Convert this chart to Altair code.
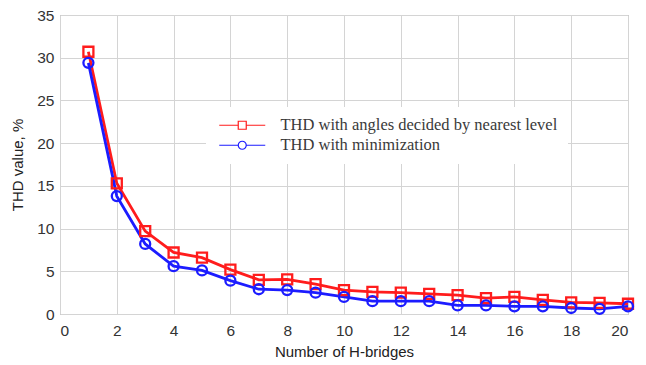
import altair as alt
import pandas as pd

bridges = list(range(1, 21))
thd_nearest = [30.7, 15.3, 9.7, 7.2, 6.6, 5.2, 4.0, 4.05, 3.5, 2.8,
               2.6, 2.5, 2.35, 2.2, 1.85, 2.0, 1.65, 1.35, 1.3, 1.2]
thd_min = [29.4, 13.8, 8.2, 5.6, 5.1, 3.9, 2.9, 2.8, 2.5, 2.0,
           1.5, 1.5, 1.5, 1.0, 1.0, 0.9, 0.9, 0.7, 0.6, 0.9]
series_names = ["THD with angles decided by nearest level", "THD with minimization"]
series_colors = ["#ff1c1c", "#1c1cff"]
x_ticks = list(range(0, 21, 2))
y_ticks = list(range(0, 36, 5))

rows = []
for n, a, b in zip(bridges, thd_nearest, thd_min):
    rows.append({"n": n, "thd": a, "series": series_names[0]})
    rows.append({"n": n, "thd": b, "series": series_names[1]})
df = pd.DataFrame(rows)

legend_paths = [
    "M-4.6,0H-0.8M0.8,0H4.6M-0.8,-0.8H0.8V0.8H-0.8Z",
    "M-4.6,0H-0.8M0.8,0H4.6M-0.8,0A0.8,0.8,0,1,1,0.8,0A0.8,0.8,0,1,1,-0.8,0Z",
]

legend = alt.Legend(title=None, orient="none", legendX=146, legendY=92,
                    fillColor="white", padding=10, symbolOffset=18,
                    labelOffset=30, labelLimit=420, symbolOpacity=1, symbolStrokeWidth=1.2,
                    symbolSize=100, symbolType="circle", labelFont="Liberation Serif",
                    labelFontSize=16.5, labelColor="#3a3a3a", rowPadding=3)

x = alt.X("n:Q", scale=alt.Scale(domain=[0, 20], nice=False),
          axis=alt.Axis(values=x_ticks, title="Number of H-bridges", labelPadding=9,
                        titlePadding=6))
y = alt.Y("thd:Q", scale=alt.Scale(domain=[0, 35], nice=False),
          axis=alt.Axis(values=y_ticks, title="THD value, %"))
color = alt.Color("series:N", scale=alt.Scale(domain=series_names, range=series_colors),
                  legend=legend)

lines = alt.Chart(df).mark_line(strokeWidth=2.8).encode(x=x, y=y, color=color, order="n:Q")

sq = alt.Chart(df).transform_filter(alt.datum.series == series_names[0]).mark_point(
    shape="square", size=100, strokeWidth=2.3, filled=False, opacity=1
).encode(x=x, y=y, color=color)
ci = alt.Chart(df).transform_filter(alt.datum.series == series_names[1]).mark_point(
    shape="circle", size=100, strokeWidth=2.3, filled=False, opacity=1
).encode(x=x, y=y, color=color)

leg = alt.Chart(df).mark_point(filled=False, size=0, strokeWidth=0).encode(
    x=x, y=y, color=color,
    shape=alt.Shape("series:N", scale=alt.Scale(domain=series_names, range=legend_paths),
                    legend=legend),
)

chart = alt.layer(lines, sq, ci, leg).properties(
    width=568, height=299,
    autosize=alt.AutoSizeParams(type="none"),
    padding={"left": 52, "top": 7, "right": 10, "bottom": 49},
    background="white",
).configure_view(stroke="#9a9a9a", strokeWidth=1).configure_axis(
    grid=True, gridColor="#d4d4d4", gridWidth=1, domain=False, ticks=False,
    labelFont="Liberation Sans", labelFontSize=15.5, labelColor="#333",
    titleFont="Liberation Sans", titleFontSize=15, titleFontWeight="normal", titleColor="#222",
    labelPadding=6,
).configure_axisY(titlePadding=11)

chart.save("out.html", embed_options={"renderer": "svg", "actions": False})
